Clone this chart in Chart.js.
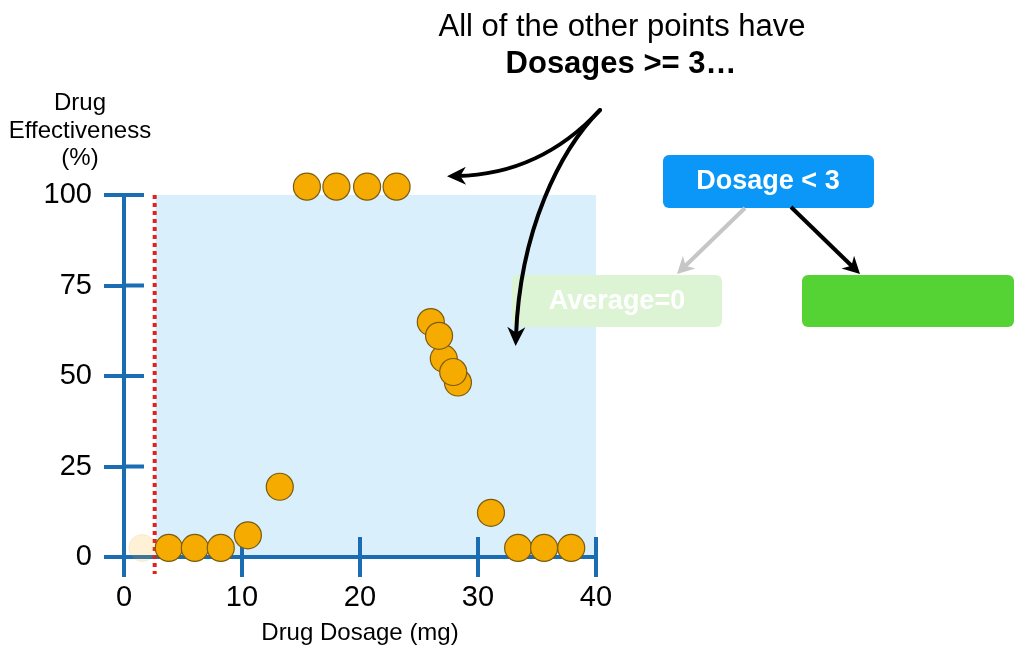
<!DOCTYPE html>
<html lang="en">
<head>
<meta charset="UTF-8">
<title>Drug Dosage vs Effectiveness</title>
<script src="https://cdn.jsdelivr.net/npm/chart.js"></script>
<style>
  html, body { margin: 0; padding: 0; background: #fff; }
  #wrap { width: 1022px; height: 655px; }
</style>
</head>
<body>
<div id="wrap"><canvas id="chart" width="1022" height="655"></canvas></div>
<script>
// ---- data ----
const dosage        = [3.8, 6.0, 8.2, 10.5, 13.2, 15.5, 18.0, 20.6, 23.1, 28.3, 27.1, 27.9, 26.0, 26.7, 31.1, 33.4, 35.6, 37.9];
const effectiveness = [2.5, 2.5, 2.5, 6.0, 19.4, 102.3, 102.3, 102.3, 102.3, 48.2, 54.8, 51.1, 64.9, 61.1, 12.2, 2.5, 2.5, 2.5];
const fadedDosage = [1.55];
const fadedEffectiveness = [2.5];
const xTicks = [0, 10, 20, 30, 40];
const yTicks = [0, 25, 50, 75, 100];
const splitDosage = 2.6;

const AXIS = '#1a6db3';
const FONT = '"Helvetica Neue", "Liberation Sans", Arial, sans-serif';

function arrowHead(ctx, tip, from, len, half, color) {
    const dx = tip.x - from.x, dy = tip.y - from.y;
    const d = Math.hypot(dx, dy);
    const ux = dx / d, uy = dy / d;
    const bx = tip.x - ux * len, by = tip.y - uy * len;
    ctx.fillStyle = color;
    ctx.beginPath();
    ctx.moveTo(tip.x, tip.y);
    ctx.lineTo(bx - uy * half, by + ux * half);
    ctx.lineTo(bx + ux * len * 0.3, by + uy * len * 0.3);
    ctx.lineTo(bx + uy * half, by - ux * half);
    ctx.closePath();
    ctx.fill();
}

// cubic curve with a head at the end
function curvedArrow(ctx, p0, c1, c2, p2, color) {
    ctx.strokeStyle = color;
    ctx.lineWidth = 4;
    ctx.lineCap = 'round';
    ctx.beginPath();
    ctx.moveTo(p0.x, p0.y);
    ctx.bezierCurveTo(c1.x, c1.y, c2.x, c2.y, p2.x, p2.y);
    ctx.stroke();
    const dx = p2.x - c2.x, dy = p2.y - c2.y, d = Math.hypot(dx, dy);
    const tip = { x: p2.x + dx / d * 10, y: p2.y + dy / d * 10 };
    arrowHead(ctx, tip, c2, 19, 9, color);
}

function straightArrow(ctx, a, b, color) {
    ctx.strokeStyle = color;
    ctx.lineWidth = 4;
    ctx.lineCap = 'butt';
    const dx = b.x - a.x, dy = b.y - a.y, d = Math.hypot(dx, dy);
    ctx.beginPath();
    ctx.moveTo(a.x, a.y);
    ctx.lineTo(b.x - dx / d * 10, b.y - dy / d * 10);
    ctx.stroke();
    arrowHead(ctx, b, a, 17, 9, color);
}

function roundBox(ctx, x, y, w, h, r, fill) {
    ctx.fillStyle = fill;
    ctx.beginPath();
    ctx.roundRect(x, y, w, h, r);
    ctx.fill();
}

const decor = {
    id: 'decor',
    beforeDraw(chart) {
        const { ctx, scales: { x, y } } = chart;
        // shaded region: dosage >= split
        ctx.save();
        ctx.fillStyle = '#d9effb';
        const left = x.getPixelForValue(splitDosage) + 1;
        ctx.fillRect(left, y.getPixelForValue(100), x.getPixelForValue(40) - left, y.getPixelForValue(0) - y.getPixelForValue(100));
        ctx.restore();
    },
    beforeDatasetsDraw(chart) {
        const { ctx, scales: { x, y } } = chart;
        ctx.save();
        // inner halves of the tick marks
        ctx.strokeStyle = AXIS;
        ctx.lineWidth = 4;
        const y0 = y.getPixelForValue(0), x0 = x.getPixelForValue(0);
        xTicks.slice(1).forEach(v => {
            const px = x.getPixelForValue(v);
            ctx.beginPath(); ctx.moveTo(px, y0); ctx.lineTo(px, y0 - 20); ctx.stroke();
        });
        yTicks.slice(1).forEach(v => {
            const py = y.getPixelForValue(v);
            ctx.beginPath(); ctx.moveTo(x0, py); ctx.lineTo(x0 + 20, py); ctx.stroke();
        });
        // red dotted split line
        ctx.strokeStyle = '#e3201b';
        ctx.lineWidth = 4;
        ctx.setLineDash([4, 4]);
        const sx = x.getPixelForValue(splitDosage);
        ctx.beginPath();
        ctx.moveTo(sx, y.getPixelForValue(100));
        ctx.lineTo(sx, y0 + 17);
        ctx.stroke();
        ctx.restore();
    },
    afterDraw(chart) {
        const { ctx } = chart;
        ctx.save();
        ctx.fillStyle = '#000';
        ctx.textAlign = 'center';
        ctx.textBaseline = 'middle';
        // y axis title, stacked horizontally
        ctx.font = '24px ' + FONT;
        ctx.fillText('Drug', 80, 103);
        ctx.fillText('Effectiveness', 80, 131);
        ctx.fillText('(%)', 80, 158);

        // annotation
        ctx.font = '31px ' + FONT;
        ctx.fillText('All of the other points have', 622, 27);
        ctx.font = 'bold 31px ' + FONT;
        ctx.fillText('Dosages >= 3\u2026', 621, 64);

        // tree boxes
        roundBox(ctx, 663, 155, 211, 53, 6, '#0a97f7');
        roundBox(ctx, 512, 275, 210, 52, 6, '#dcf4d4');
        roundBox(ctx, 802, 275, 212, 52, 6, '#56d334');
        ctx.fillStyle = '#fff';
        ctx.font = 'bold 27px ' + FONT;
        ctx.fillText('Dosage < 3', 768, 182);
        ctx.fillText('Average=0', 617, 302);

        // tree arrows
        straightArrow(ctx, { x: 745, y: 208 }, { x: 677, y: 274 }, '#c6c6c6');
        straightArrow(ctx, { x: 791, y: 207 }, { x: 860, y: 274 }, '#000');

        // callout arrows
        curvedArrow(ctx, { x: 600, y: 110 }, { x: 560, y: 153 }, { x: 512, y: 175 }, { x: 457, y: 176 }, '#000');
        curvedArrow(ctx, { x: 600, y: 110 }, { x: 560, y: 150 }, { x: 520, y: 230 }, { x: 516, y: 336 }, '#000');
        ctx.restore();
    }
};

const ctx = document.getElementById('chart').getContext('2d');
new Chart(ctx, {
    type: 'scatter',
    data: {
        datasets: [{
            data: dosage.map((d, i) => ({ x: d, y: effectiveness[i] })),
            backgroundColor: '#f6ab00',
            borderColor: '#7a5c10',
            borderWidth: 1.2,
            pointRadius: 13.5,
            pointHoverRadius: 13.5,
            clip: false
        }, {
            data: fadedDosage.map((d, i) => ({ x: d, y: fadedEffectiveness[i] })),
            backgroundColor: 'rgba(246, 171, 0, 0.16)',
            borderColor: 'rgba(122, 92, 16, 0.08)',
            borderWidth: 1,
            pointRadius: 13.5,
            pointHoverRadius: 13.5,
            clip: false
        }]
    },
    options: {
        responsive: false,
        animation: false,
        events: [],
        layout: { padding: { top: 195, right: 426, bottom: 0, left: 0 } },
        plugins: { legend: { display: false }, tooltip: { enabled: false } },
        scales: {
            x: {
                type: 'linear',
                min: 0,
                max: 40,
                afterBuildTicks: s => { s.ticks = xTicks.map(v => ({ value: v })); },
                afterFit: s => { s.height = 98; },
                grid: { drawOnChartArea: false, tickLength: 20, color: AXIS, lineWidth: 4 },
                border: { color: AXIS, width: 4 },
                ticks: { color: '#000', font: { family: FONT, size: 29 }, padding: 4 },
                title: { display: true, text: 'Drug Dosage (mg)', color: '#000', font: { family: FONT, size: 24 }, padding: { top: 0, bottom: 7 } }
            },
            y: {
                type: 'linear',
                min: 0,
                max: 100,
                afterBuildTicks: s => { s.ticks = yTicks.map(v => ({ value: v })); },
                afterFit: s => { s.width = 124; },
                grid: { drawOnChartArea: false, tickLength: 20, color: AXIS, lineWidth: 4 },
                border: { color: AXIS, width: 4 },
                ticks: { color: '#000', font: { family: FONT, size: 29 }, padding: 12 }
            }
        }
    },
    plugins: [decor]
});
</script>
</body>
</html>
